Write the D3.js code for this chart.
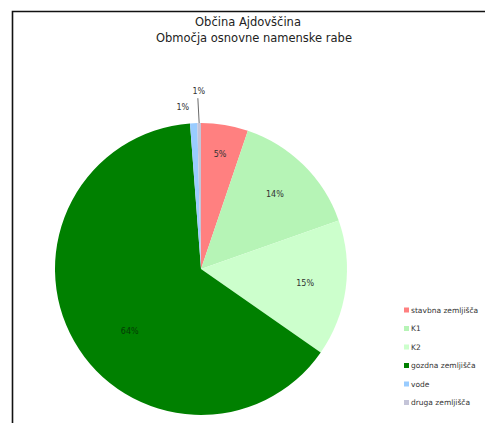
<!DOCTYPE html>
<html>
<head>
<meta charset="utf-8">
<script src="https://cdn.jsdelivr.net/npm/d3@7"></script>
<style>
  body { margin: 0; background: #fff; }
  svg { display: block; font-family: "DejaVu Sans", Verdana, sans-serif; }
</style>
</head>
<body>
<div id="chart"></div>
<script>
// data (percent of area)
var categories = ["stavbna zemljišča", "K1", "K2", "gozdna zemljišča", "vode", "druga zemljišča"];
var values = [5.2, 14.4, 15.1, 64.1, 0.8, 0.4];
var labels = ["5%", "14%", "15%", "64%", "1%", "1%"];
var colors = ["#ff8080", "#b6f4b6", "#ccffcc", "#008000", "#99ccff", "#c4c4d8"];

var w = 485, h = 423,
    cx = 201, cy = 269, r = 146;

var svg = d3.select("#chart").append("svg")
  .attr("width", w).attr("height", h);

// frame (top and left edges visible)
svg.append("path")
  .attr("d", "M12.5," + h + "V11.5H" + w)
  .attr("fill", "none")
  .attr("stroke", "#111")
  .attr("stroke-width", 1.6);

// title
var title = svg.append("text")
  .attr("text-anchor", "middle")
  .attr("font-size", 11.5)
  .attr("fill", "#222");
title.append("tspan").attr("x", 248).attr("y", 26).text("Občina Ajdovščina");
title.append("tspan").attr("x", 254).attr("y", 42).text("Območja osnovne namenske rabe");

var pie = d3.pie().sort(null).value(function(d) { return d; });
var arcs = pie(values);

var arc = d3.arc().innerRadius(0).outerRadius(r);
var labelArc = d3.arc().innerRadius(r * 0.72).outerRadius(r * 0.72);

var g = svg.append("g").attr("transform", "translate(" + cx + "," + cy + ")");

g.selectAll("path.slice")
  .data(arcs)
  .enter()
  .append("path")
    .attr("class", "slice")
    .attr("d", arc)
    .attr("fill", function(d, i) { return colors[i]; });

// labels: big slices inside, tiny slices outside
g.selectAll("text.lbl")
  .data(arcs)
  .enter()
  .append("text")
    .attr("class", "lbl")
    .attr("text-anchor", "middle")
    .attr("font-size", 8)
    .attr("dy", "0.35em")
    .attr("fill", function(d, i) { return i === 3 ? "#053a05" : "#333"; })
    .attr("transform", function(d, i) {
      var p;
      if (i === 4) {
        p = d3.arc().innerRadius(r * 1.11).outerRadius(r * 1.11).centroid(d);
        p[0] -= 10;
      } else if (i === 5) {
        p = d3.arc().innerRadius(r * 1.22).outerRadius(r * 1.22).centroid(d);
      } else if (i === 0) {
        p = d3.arc().innerRadius(r * 0.8).outerRadius(r * 0.8).centroid(d);
      } else {
        p = labelArc.centroid(d);
        if (i === 3) { p[0] += 20; p[1] += 10; }
      }
      return "translate(" + p + ")";
    })
    .text(function(d, i) { return labels[i]; });

// leader line for the smallest slice
var last = arcs[5];
var a = (last.startAngle + last.endAngle) / 2;
g.append("line")
  .attr("x1", Math.sin(a) * r).attr("y1", -Math.cos(a) * r)
  .attr("x2", Math.sin(a) * r * 1.17 - 1).attr("y2", -Math.cos(a) * r * 1.17)
  .attr("stroke", "#444")
  .attr("stroke-width", 0.8);

// legend
var legend = svg.append("g").attr("transform", "translate(404,310)");
var item = legend.selectAll("g")
  .data(categories)
  .enter()
  .append("g")
    .attr("transform", function(d, i) { return "translate(0," + (i * 18.5) + ")"; });

item.append("rect")
  .attr("x", 0).attr("y", -2.5)
  .attr("width", 5).attr("height", 5)
  .attr("fill", function(d, i) { return colors[i]; });

item.append("text")
  .attr("x", 7).attr("y", 0)
  .attr("dy", "0.35em")
  .attr("font-size", 7.5)
  .attr("fill", "#333")
  .text(function(d) { return d; });
</script>
</body>
</html>
